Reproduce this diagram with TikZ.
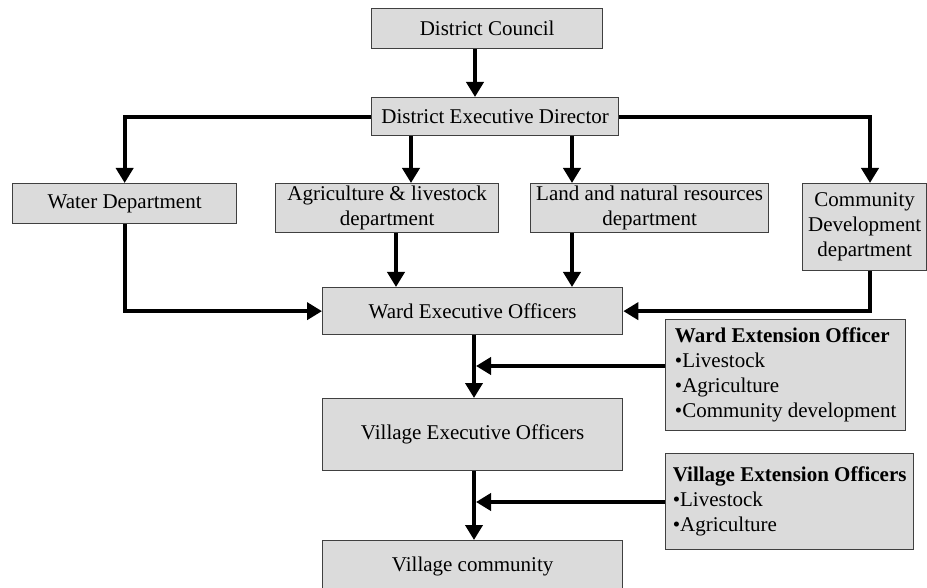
\documentclass[tikz,border=0pt]{standalone}
\usepackage{fontspec}
\setmainfont{Liberation Serif}
\usepackage{tikz}
\usetikzlibrary{positioning,arrows.meta,calc}

\begin{document}
\begin{tikzpicture}[
  x=1pt, y=-1pt,
  unit/.style={draw=black!75, fill=black!14, line width=1.3pt, align=center,
               font=\fontsize{21}{25}\selectfont, inner sep=2pt, anchor=north west},
  ext/.style={unit, align=left},
  arr/.style={-{Triangle[length=15pt,width=17pt]}, line width=4pt, black}
]
\useasboundingbox (0,0) rectangle (927,588);
\node[unit, minimum width=231pt, minimum height=40pt] (dc) at (371,8) {District Council};
\node[unit, minimum width=247pt, minimum height=38pt] (ded) at (371,97) {District Executive Director};
\node[unit, minimum width=224pt, minimum height=40pt] (water) at (12,183) {Water Department};
\node[unit, minimum width=223pt, minimum height=49pt] (agri) at (275,183) {Agriculture \& livestock\\department};
\node[unit, minimum width=238pt, minimum height=49pt] (land) at (530,183) {Land and natural resources\\department};
\node[unit, minimum width=124pt, minimum height=87pt] (comm) at (802,183) {Community\\Development\\department};
\node[unit, minimum width=300pt, minimum height=47pt] (weo) at (322,287) {Ward Executive Officers};
\node[ext, minimum width=240pt, minimum height=111pt] (wext) at (665,319) {\textbf{Ward Extension Officer}\\•Livestock\\•Agriculture\\•Community development};
\node[unit, minimum width=300pt, minimum height=72pt] (veo) at (322,398) {Village Executive Officers};
\node[ext, minimum width=248pt, minimum height=96pt] (vext) at (665,453) {\textbf{Village Extension Officers}\\•Livestock\\•Agriculture};
\node[unit, minimum width=300pt, minimum height=52pt] (vc) at (322,540) {Village community};
\coordinate (wjoin) at (476,366);
\coordinate (vjoin) at (476,502);
\foreach \x/\a/\b in {475/dc/ded, 411/ded/agri, 572/ded/land, 396/agri/weo, 572/land/weo, 474/weo/veo, 474/veo/vc}
  \draw[arr] (\x,0 |- \a.south) -- (\x,0 |- \b.north);
\draw[arr] (ded.west) -| (water.north);
\draw[arr] (ded.east) -| (870,0 |- comm.north);
\draw[arr] (water.south) |- (weo.west);
\draw[arr] (870,0 |- comm.south) |- (weo.east);
\draw[arr] (wext.west |- wjoin) -- (wjoin);
\draw[arr] (vext.west |- vjoin) -- (vjoin);
\end{tikzpicture}
\end{document}
